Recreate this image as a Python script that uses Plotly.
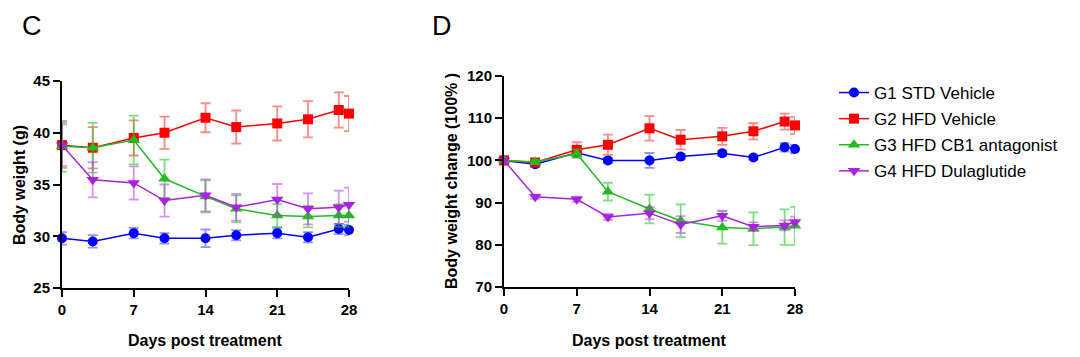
import plotly.graph_objects as go

days = [0, 3, 7, 10, 14, 17, 21, 24, 27, 28]
names = ["G1 STD Vehicle", "G2 HFD Vehicle", "G3 HFD CB1 antagonist", "G4 HFD Dulaglutide"]
x_ticks = [0, 7, 14, 21, 28]
c_ticks = [25, 30, 35, 40, 45]
d_ticks = [70, 80, 90, 100, 110, 120]

# Panel C: body weight (g)
bw_g1 = [29.8, 29.5, 30.3, 29.8, 29.8, 30.1, 30.3, 29.9, 30.7, 30.6]
bw_g1_err = [0.6, 0.6, 0.5, 0.5, 0.85, 0.5, 0.5, 0.5, 0.5, 0.5]
bw_g2 = [38.8, 38.55, 39.5, 40.0, 41.45, 40.55, 40.9, 41.3, 42.2, 41.85]
bw_g2_err = [2.2, 2.0, 1.7, 1.55, 1.4, 1.6, 1.65, 1.75, 1.7, 1.7]
bw_g3 = [38.7, 38.55, 39.3, 35.55, 33.85, 32.65, 32.0, 31.9, 32.0, 32.0]
bw_g3_err = [2.45, 2.4, 2.35, 1.85, 1.55, 1.3, 1.1, 1.05, 1.1, 1.1]
bw_g4 = [38.8, 35.45, 35.15, 33.45, 33.95, 32.8, 33.55, 32.65, 32.8, 33.05]
bw_g4_err = [2.0, 1.7, 1.6, 1.55, 1.55, 1.3, 1.5, 1.5, 1.6, 1.65]

# Panel D: body weight change (%)
pc_g1 = [100.0, 99.1, 101.8, 100.0, 100.0, 100.9, 101.7, 100.7, 103.1, 102.7]
pc_g1_err = [0.4, 0.5, 0.6, 0.6, 1.75, 0.6, 0.6, 0.5, 1.0, 1.0]
pc_g2 = [100.0, 99.5, 102.5, 103.7, 107.6, 104.9, 105.7, 106.9, 109.2, 108.3]
pc_g2_err = [0.4, 0.5, 1.8, 2.4, 2.9, 2.3, 2.0, 1.9, 1.9, 2.0]
pc_g3 = [100.0, 99.6, 101.6, 92.6, 88.5, 85.7, 84.1, 83.8, 84.2, 84.5]
pc_g3_err = [0.4, 0.5, 1.0, 2.1, 3.4, 3.9, 3.8, 3.9, 4.2, 4.5]
pc_g4 = [100.0, 91.4, 90.8, 86.6, 87.5, 84.8, 86.9, 84.3, 84.6, 85.4]
pc_g4_err = [0.4, 0.5, 0.6, 0.7, 1.4, 2.0, 1.2, 1.0, 1.2, 1.3]

colors = ["#0000FF", "#FF0000", "#22BB22", "#AA22DD"]
err_colors = ["rgba(60,60,255,0.55)", "rgba(255,40,40,0.55)", "rgba(40,200,40,0.6)", "rgba(180,60,230,0.55)"]
symbols = ["circle", "square", "triangle-up", "triangle-down"]
sizes = [10, 10, 11, 11]

panel_c = [(bw_g1, bw_g1_err), (bw_g2, bw_g2_err), (bw_g3, bw_g3_err), (bw_g4, bw_g4_err)]
panel_d = [(pc_g1, pc_g1_err), (pc_g2, pc_g2_err), (pc_g3, pc_g3_err), (pc_g4, pc_g4_err)]

fig = go.Figure()

for panel, (xa, ya), showleg in [(panel_c, ("x", "y"), True), (panel_d, ("x2", "y2"), False)]:
    for i, (vals, errs) in enumerate(panel):
        fig.add_trace(go.Scatter(
            x=days, y=vals, xaxis=xa, yaxis=ya,
            mode="lines+markers", name=names[i], showlegend=showleg,
            legendgroup="g%d" % i,
            line=dict(color=colors[i], width=1.5),
            marker=dict(color=colors[i], symbol=symbols[i], size=sizes[i], line=dict(width=0)),
            error_y=dict(type="data", array=errs, visible=True, color=err_colors[i], thickness=1.8, width=5),
            cliponaxis=False,
        ))

FONT = "Liberation Sans, Arial"
axis_common = dict(
    showline=True, linecolor="black", linewidth=2, ticks="outside", ticklen=7, tickwidth=2,
    tickcolor="black", showgrid=False, zeroline=False, mirror=False, automargin=False,
    tickfont=dict(family=FONT, size=15, color="black", weight="bold"),
)
title_font = dict(family=FONT, size=16, color="black", weight="bold")

# The page body has an 8px default margin; the figure is sized and laid out to compensate.
OFF = 8
W, H = 1080 - OFF, 357 - OFF

def X(px):
    return (px - OFF) / W

def Y(py):
    return 1 - (py - OFF) / H

fig.update_layout(
    width=W, height=H,
    margin=dict(l=0, r=0, t=0, b=0),
    paper_bgcolor="white", plot_bgcolor="white",
    xaxis=dict(domain=[X(62), X(349)], range=[0, 28], tickvals=x_ticks, anchor="y", **axis_common),
    yaxis=dict(domain=[Y(288), Y(81)], range=[25, 45], tickvals=c_ticks, anchor="x", **axis_common),
    xaxis2=dict(domain=[X(504), X(795)], range=[0, 28], tickvals=x_ticks, anchor="y2", **axis_common),
    yaxis2=dict(domain=[Y(287), Y(76)], range=[70, 120], tickvals=d_ticks, anchor="x2", **axis_common),
    legend=dict(x=X(834), y=Y(75), xref="paper", yref="paper", xanchor="left", yanchor="top",
                font=dict(family=FONT, size=17, color="black"),
                bgcolor="rgba(0,0,0,0)", traceorder="grouped", tracegroupgap=1, itemwidth=30),
    annotations=[
        dict(text="C", x=X(20), y=Y(9), xref="paper", yref="paper", showarrow=False,
             xanchor="left", yanchor="top", font=dict(family=FONT, size=27, color="black")),
        dict(text="D", x=X(430), y=Y(9), xref="paper", yref="paper", showarrow=False,
             xanchor="left", yanchor="top", font=dict(family=FONT, size=27, color="black")),
        dict(text="Body weight (g)", x=X(19), y=Y(185), xref="paper", yref="paper", showarrow=False,
             textangle=-90, xanchor="center", yanchor="middle", font=title_font),
        dict(text="Body weight change (100% )", x=X(451), y=Y(181), xref="paper", yref="paper",
             showarrow=False, textangle=-90, xanchor="center", yanchor="middle", font=title_font),
        dict(text="Days post treatment", x=X(205), y=Y(340), xref="paper", yref="paper", showarrow=False,
             xanchor="center", yanchor="middle", font=title_font),
        dict(text="Days post treatment", x=X(649), y=Y(340), xref="paper", yref="paper", showarrow=False,
             xanchor="center", yanchor="middle", font=title_font),
    ],
)

fig.write_html("out.html")
